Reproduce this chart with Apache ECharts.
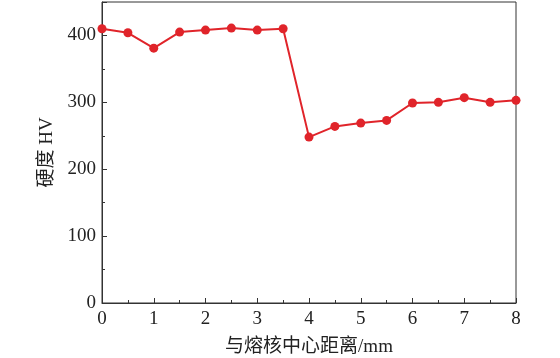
<!DOCTYPE html>
<html>
<head>
<meta charset="utf-8">
<script src="https://cdn.jsdelivr.net/npm/echarts@6/dist/echarts.min.js"></script>
<style>
  html, body { margin: 0; padding: 0; background: #fff; }
  #chart { width: 560px; height: 358px; }
</style>
</head>
<body>
<div id="chart"></div>
<script>
// 与熔核中心距离 (mm)
const distance = [0, 0.5, 1, 1.5, 2, 2.5, 3, 3.5, 4, 4.5, 5, 5.5, 6, 6.5, 7, 7.5, 8]
// 硬度 HV
const hardness = [410, 404, 381, 405, 408, 411, 408, 410, 248, 264, 269, 273, 299, 300, 307, 300, 303]

const font = '"Liberation Serif", "Noto Sans CJK SC", serif'
const axisColor = '#333'

const chart = echarts.init(document.getElementById('chart'))
chart.setOption({
  animation: false,
  grid: {
    left: 102,
    right: 44,
    top: 2,
    bottom: 55,
    outerBoundsMode: 'none',
    show: true,
    borderColor: axisColor,
    borderWidth: 1
  },
  xAxis: {
    type: 'value',
    min: 0,
    max: 8,
    interval: 1,
    name: '与熔核中心距离/mm',
    nameLocation: 'middle',
    nameGap: 35,
    nameTextStyle: { fontFamily: font, fontSize: 19, color: '#222' },
    axisLine: { lineStyle: { color: axisColor } },
    axisTick: { inside: true, length: 5, lineStyle: { color: axisColor } },
    minorTick: { show: true, splitNumber: 2, length: 3, lineStyle: { color: axisColor } },
    axisLabel: { fontFamily: font, fontSize: 19, color: '#222', margin: 7 },
    splitLine: { show: false }
  },
  yAxis: {
    type: 'value',
    min: 0,
    max: 450,
    interval: 100,
    name: '硬度 HV',
    nameLocation: 'middle',
    nameGap: 43,
    nameTextStyle: { fontFamily: font, fontSize: 19, color: '#222' },
    axisLine: { lineStyle: { color: axisColor } },
    axisTick: { inside: true, length: 5, lineStyle: { color: axisColor } },
    minorTick: { show: true, splitNumber: 2, length: 3, lineStyle: { color: axisColor } },
    axisLabel: {
      fontFamily: font,
      fontSize: 19,
      color: '#222',
      margin: 6,
      showMaxLabel: false
    },
    splitLine: { show: false }
  },
  series: [
    {
      type: 'line',
      data: distance.map((d, i) => [d, hardness[i]]),
      symbol: 'circle',
      symbolSize: 9,
      lineStyle: { color: '#e0242a', width: 2 },
      itemStyle: { color: '#e0242a' }
    }
  ]
})
</script>
</body>
</html>
